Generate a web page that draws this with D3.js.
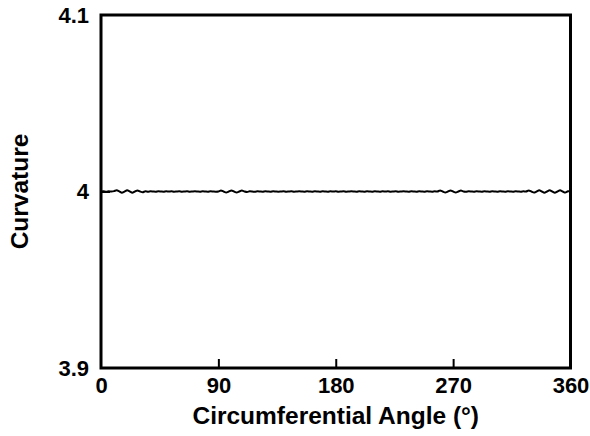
<!DOCTYPE html>
<html>
<head>
<meta charset="utf-8">
<script src="https://cdn.jsdelivr.net/npm/d3@7"></script>
<style>
  html, body { margin: 0; padding: 0; background: #fff; }
  svg { display: block; }
  text { font-family: "Liberation Sans", Arial, sans-serif; font-weight: bold; fill: #000; }
</style>
</head>
<body>
<svg id="chart" width="590" height="436"></svg>
<script>
// ---------- Data (every 2 degrees) ----------
const angles = d3.range(0, 361, 2);
const curvature = [
  4.0000, 4.0001, 3.9999, 4.0001, 4.0000, 4.0002, 4.0007, 4.0001, 3.9993, 3.9999,
  4.0007, 4.0001, 3.9993, 4.0000, 4.0006, 4.0000, 3.9996, 4.0001, 3.9999, 4.0001,
  4.0000, 3.9999, 4.0001, 4.0000, 3.9999, 4.0001, 4.0000, 4.0001, 3.9999, 4.0000,
  4.0001, 3.9999, 4.0000, 4.0001, 3.9999, 4.0000, 4.0001, 4.0000, 3.9999, 4.0001,
  4.0000, 3.9999, 4.0001, 4.0000, 3.9999, 4.0000, 4.0006, 4.0000, 3.9994, 4.0000,
  4.0006, 4.0000, 3.9994, 4.0000, 4.0005, 4.0000, 3.9997, 4.0001, 4.0000, 3.9998,
  4.0001, 4.0000, 3.9999, 4.0001, 4.0000, 3.9999, 4.0001, 4.0000, 3.9999, 4.0000,
  4.0001, 3.9999, 4.0000, 4.0001, 3.9999, 4.0000, 4.0001, 4.0000, 3.9999, 4.0001,
  4.0000, 3.9999, 4.0001, 4.0000, 3.9999, 4.0001, 4.0000, 3.9999, 4.0001, 4.0000,
  4.0001, 3.9999, 4.0000, 4.0001, 3.9999, 4.0000, 4.0001, 4.0000, 3.9999, 4.0001,
  4.0000, 3.9999, 4.0001, 4.0000, 3.9999, 4.0001, 4.0000, 3.9999, 4.0001, 4.0000,
  4.0001, 3.9999, 4.0000, 4.0001, 3.9999, 4.0000, 4.0001, 4.0000, 3.9999, 4.0001,
  4.0000, 3.9999, 4.0001, 4.0000, 3.9999, 4.0001, 4.0000, 3.9999, 4.0001, 4.0000,
  4.0006, 4.0000, 3.9994, 4.0000, 4.0006, 4.0000, 3.9994, 4.0000, 4.0005, 4.0000,
  3.9999, 4.0001, 4.0000, 3.9999, 4.0001, 4.0000, 3.9999, 4.0001, 4.0000, 3.9999,
  4.0001, 4.0000, 3.9999, 4.0001, 4.0000, 3.9999, 4.0001, 4.0000, 3.9999, 4.0001,
  4.0000, 3.9999, 4.0001, 4.0000, 4.0006, 4.0000, 3.9994, 4.0000, 4.0007, 4.0000,
  3.9993, 4.0000, 4.0007, 4.0000, 3.9993, 4.0000, 4.0007, 4.0000, 3.9994, 4.0001,
  4.0000
];
const xTicks = [0, 90, 180, 270, 360];
const yTicks = [3.9, 4, 4.1];
const yTickLabels = ["3.9", "4", "4.1"];

const data = angles.map((a, i) => ({ angle: a, k: curvature[i] }));

// ---------- Layout ----------
const svg = d3.select("#chart");
const margin = { top: 15, right: 19.5, bottom: 68, left: 101 };
const width = 590 - margin.left - margin.right;
const height = 436 - margin.top - margin.bottom;
const g = svg.append("g").attr("transform", `translate(${margin.left},${margin.top})`);

const x = d3.scaleLinear().domain([0, 360]).range([0, width]);
const y = d3.scaleLinear().domain([3.9, 4.1]).range([height, 0]);

// ---------- Line ----------
const line = d3.line()
  .x(d => x(d.angle))
  .y(d => y(d.k))
  .curve(d3.curveCardinal.tension(0.3));

g.append("path")
  .datum(data)
  .attr("fill", "none")
  .attr("stroke", "#000")
  .attr("stroke-width", 2)
  .attr("d", line);

// ---------- Axes (ticks pointing inward) ----------
const xAxis = d3.axisBottom(x).tickValues(xTicks).tickSize(-9).tickPadding(9).tickSizeOuter(0);
const yAxis = d3.axisLeft(y).tickValues(yTicks)
  .tickFormat((d, i) => yTickLabels[i]).tickSize(-9).tickPadding(12).tickSizeOuter(0);

const gx = g.append("g").attr("transform", `translate(0,${height})`).call(xAxis);
const gy = g.append("g").call(yAxis);

[gx, gy].forEach(ax => {
  ax.select(".domain").remove();
  ax.selectAll(".tick line").attr("stroke", "#000").attr("stroke-width", 2);
  ax.selectAll(".tick text").style("font-size", "22px");
});
// hide tick marks that sit on the frame
gx.selectAll(".tick line").filter(d => d === 0 || d === 360).remove();
gy.selectAll(".tick line").filter(d => d === 3.9 || d === 4.1).remove();

// frame
g.append("rect")
  .attr("x", 0).attr("y", 0)
  .attr("width", width).attr("height", height)
  .attr("fill", "none")
  .attr("stroke", "#000")
  .attr("stroke-width", 3);

// ---------- Axis titles ----------
svg.append("text")
  .attr("x", margin.left + width / 2)
  .attr("y", 424)
  .attr("text-anchor", "middle")
  .style("font-size", "24.5px")
  .text("Circumferential Angle (°)");

svg.append("text")
  .attr("transform", `translate(28,${margin.top + height / 2}) rotate(-90)`)
  .attr("text-anchor", "middle")
  .style("font-size", "24.5px")
  .text("Curvature");
</script>
</body>
</html>
